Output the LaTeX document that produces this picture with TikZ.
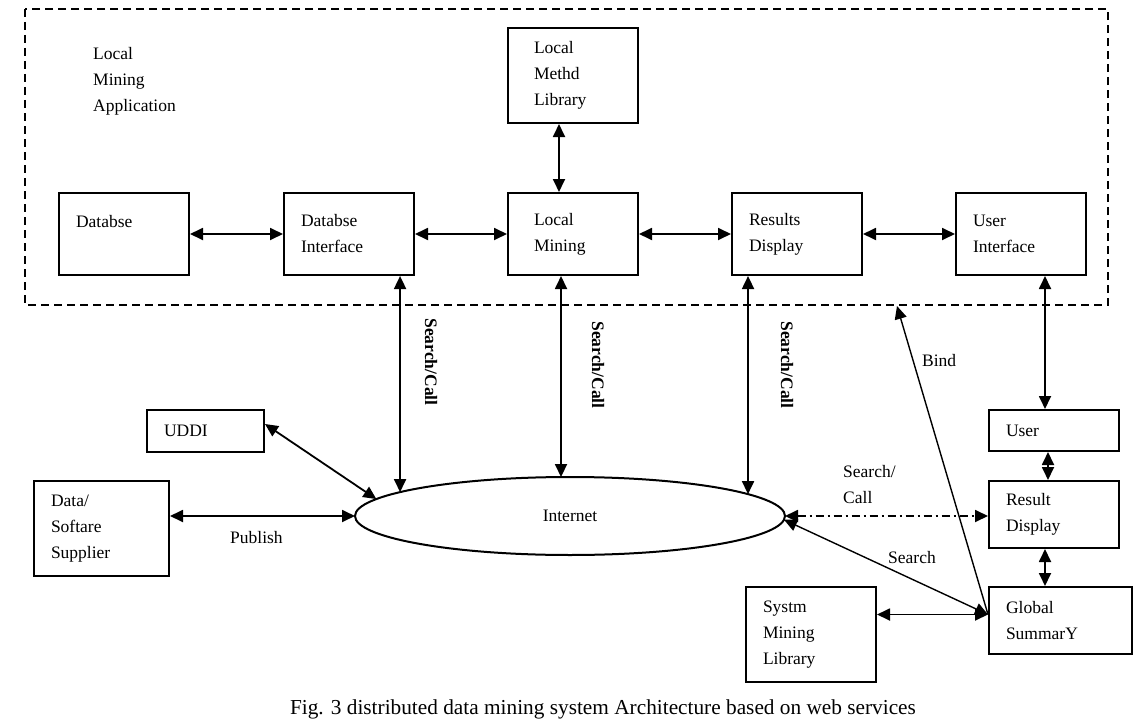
\documentclass[tikz,border=0pt]{standalone}
\usepackage{fontspec}
\setmainfont{Liberation Serif}
\usepackage{tikz}
\usetikzlibrary{arrows.meta, positioning, shapes.geometric}

\begin{document}
\begin{tikzpicture}[
    x=1pt, y=-1pt,
    blk/.style={rectangle, draw, line width=2pt, align=left, inner xsep=17pt, inner ysep=0pt, minimum height=82pt, text width=96pt, font=\fontsize{17.5}{26}\selectfont},
    lbl/.style={inner sep=0pt, align=left, font=\fontsize{17.5}{26}\selectfont},
    vlbl/.style={inner sep=0pt, rotate=-90, font=\fontsize{17.5}{26}\selectfont\bfseries},
    dbl/.style={{Triangle[length=13pt, width=12pt]}-{Triangle[length=13pt, width=12pt]}, line width=1.8pt},
    thindbl/.style={{Triangle[length=13pt, width=12pt]}-{Triangle[length=13pt, width=12pt]}, line width=1.4pt},
    one/.style={-{Triangle[length=13pt, width=12pt]}, line width=1.4pt},
    dashdot/.style={{Triangle[length=13pt, width=12pt]}-{Triangle[length=13pt, width=12pt]}, line width=1.8pt, dash pattern=on 8pt off 4pt on 2pt off 4pt},
    frame/.style={line width=1.8pt, dash pattern=on 8pt off 5pt}
]
\useasboundingbox (0,0) rectangle (1133,725);

% Local mining application area
\draw[frame] (25,9) rectangle (1108,305);
\node[lbl, anchor=west] (app) at (93,81) {Local\\Mining\\Application};

% Row 1
\node[blk, anchor=north west] (db) at (58,192) {Databse\\\mbox{}};
\node[blk, right=93pt of db] (dbi) {Databse\\Interface};
\node[blk, right=92pt of dbi, inner xsep=26pt, text width=78pt] (lm) {Local\\Mining};
\node[blk, right=92pt of lm] (rd) {Results\\Display};
\node[blk, right=92pt of rd] (ui) {User\\Interface};
\node[blk, above=68pt of lm, inner xsep=26pt, text width=78pt, minimum height=95pt] (lml) {Local\\Methd\\Library};

% Internet
\node[ellipse, draw, line width=2pt, minimum width=430pt, minimum height=78pt, inner sep=0pt, outer sep=0pt, font=\fontsize{17.5}{26}\selectfont] (inet) at (570,516) {Internet};

% Left side
\node[blk, anchor=north west, minimum height=42pt, text width=83pt] (uddi) at (146,409) {UDDI};
\node[blk, anchor=north west, minimum height=95pt, text width=101pt] (dss) at (33,480) {Data/\\Softare\\Supplier};

% Right side
\node[blk, anchor=north west, minimum height=41pt] (user) at (988,409) {User};
\node[blk, below=28pt of user, minimum height=67pt] (resd) {Result\\Display};
\node[blk, anchor=north west, minimum height=67pt, text width=109pt] (gs) at (988,586) {Global\\SummarY};
\node[blk, anchor=north west, minimum height=95pt] (sml) at (745,586) {Systm\\Mining\\Library};

\coordinate (gsw) at ([yshift=6pt]gs.west);
\coordinate (bindtop) at (897,306);

% Arrows in the application area
\draw[dbl] (db) -- (dbi);
\draw[dbl] (dbi) -- (lm);
\draw[dbl] (lm) -- (rd);
\draw[dbl] (rd) -- (ui);
\draw[dbl] ([xshift=-14pt]lml.south) -- ([xshift=-14pt]lm.north);

% Search/Call links
\draw[dbl] (inet.172.9 |- dbi.south) -- (inet.172.9);
\draw[dbl] (inet.103 |- lm.south) -- (inet.103);
\draw[dbl] (inet.7.25 |- rd.south) -- (inet.7.25);
\node[vlbl] at (431,362) {Search/Call};
\node[vlbl] at (598,365) {Search/Call};
\node[vlbl] at (787,365) {Search/Call};

% UDDI and publishing
\draw[dbl] ([yshift=7pt]uddi.east) -- (inet.175.6);
\draw[dbl] (inet.west -| dss.east) -- (inet.west);
\node[lbl, anchor=west] at (230,538) {Publish};

% User side
\draw[dbl] ([xshift=-9pt]user.north |- ui.south) -- ([xshift=-9pt]user.north);
\draw[dbl] ([xshift=-6pt]user.south) -- ([xshift=-6pt]user.south |- resd.north);
\draw[dbl] ([xshift=-9pt]resd.south) -- ([xshift=-9pt]resd.south |- gs.north);
\draw[dashdot] (inet.east) -- (inet.east -| resd.west);
\node[lbl, anchor=west] at (843,484.5) {Search/\\Call};
\draw[thindbl] (inet.-1.4) -- (gsw);
\node[lbl, anchor=west] at (888,558) {Search};
\draw[dbl] (sml.east |- gsw) -- (gsw);
\draw[one] (gsw) -- (bindtop);
\node[lbl, anchor=west] at (922,361) {Bind};

% Caption
\node[lbl, font=\fontsize{21.3}{26}\selectfont] (cap) at (603,709) {Fig. 3 distributed data mining system Architecture based on web services};
\end{tikzpicture}
\end{document}
